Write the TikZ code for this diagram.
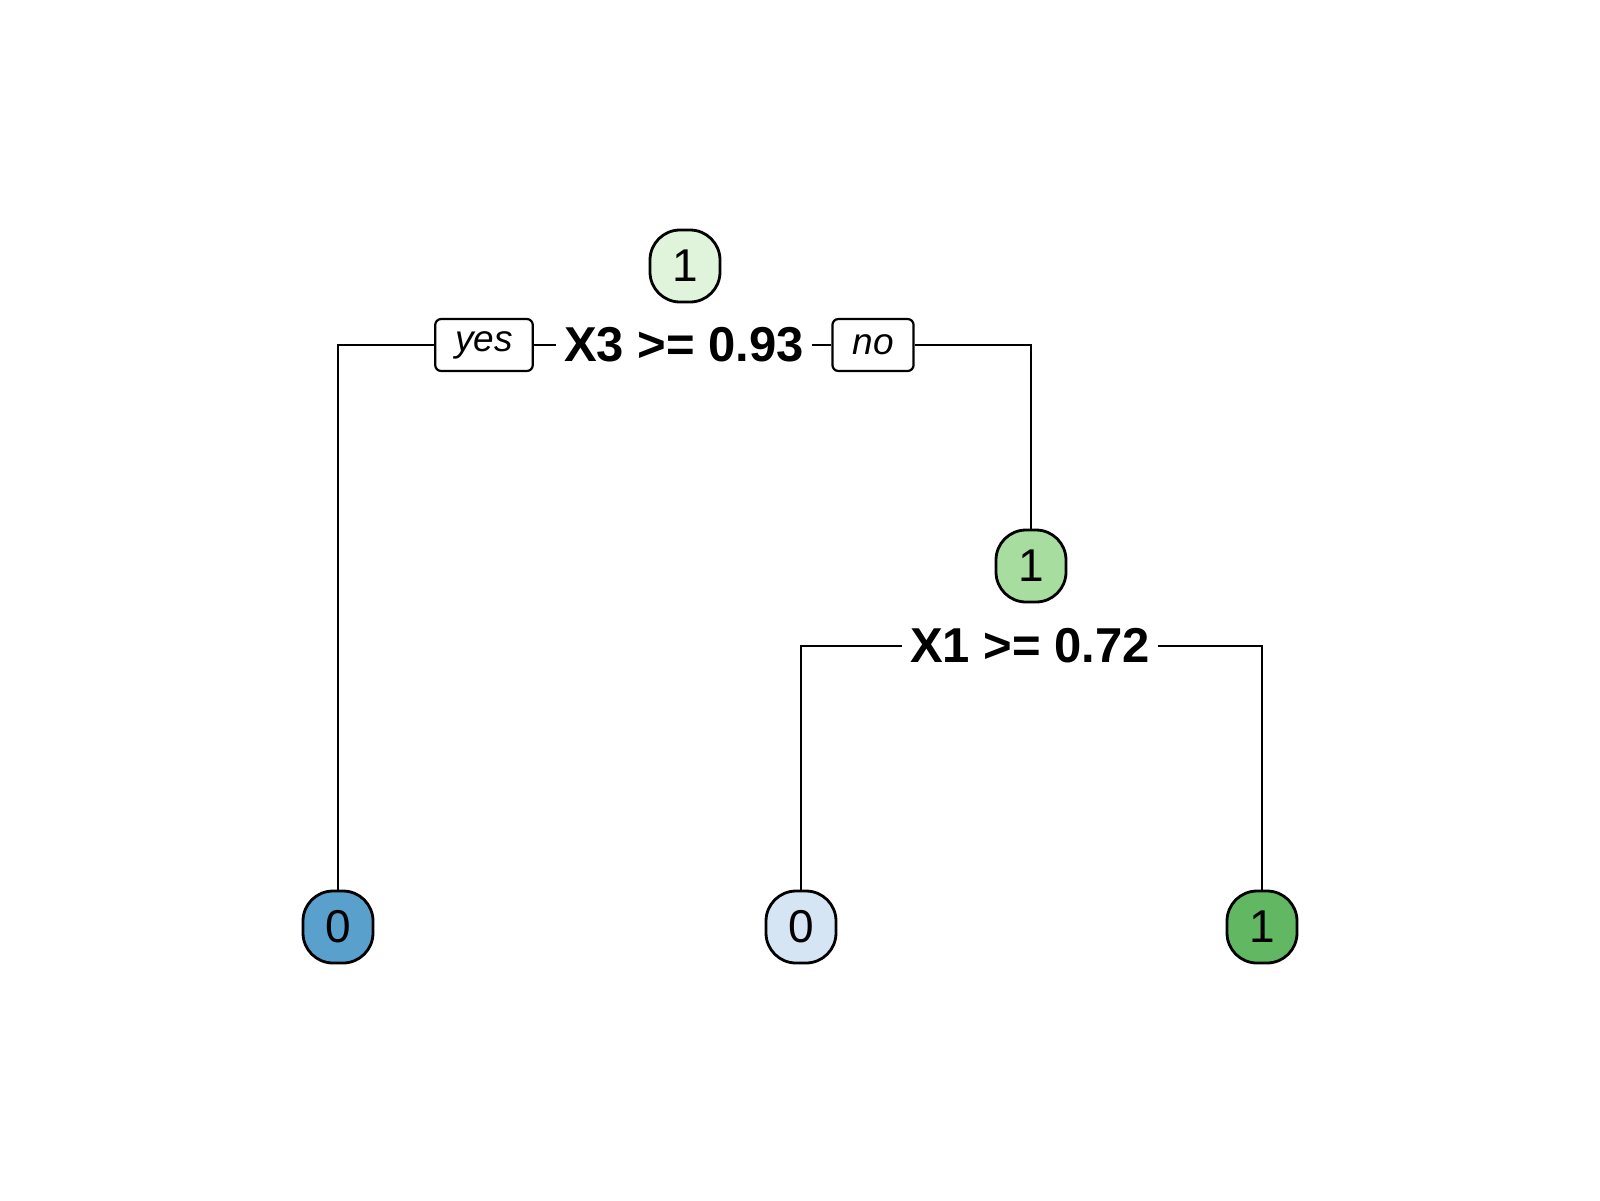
\documentclass[tikz,border=0pt]{standalone}
\usepackage{fontspec}
\setmainfont{Liberation Sans}
\definecolor{rootgreen}{HTML}{E0F3DB}
\definecolor{midgreen}{HTML}{A8DDA0}
\definecolor{leafblue}{HTML}{5AA0CD}
\definecolor{paleblue}{HTML}{D5E5F4}
\definecolor{leafgreen}{HTML}{62B862}
\begin{document}
\begin{tikzpicture}[x=0.5pt,y=-0.5pt,
        treenode/.style={draw,line width=1.4pt,rounded corners=15pt,minimum width=35pt,minimum height=36pt,inner sep=0pt,font=\fontsize{23}{23}\selectfont},
        splittext/.style={font=\bfseries\fontsize{24.5}{24.5}\selectfont,inner sep=3.5pt},
        sidelabel/.style={draw,line width=1.1pt,rounded corners=3pt,minimum height=26pt,inner xsep=10pt,font=\itshape\fontsize{18.5}{18.5}\selectfont},
        every path/.style={line width=1.1pt}]
                \useasboundingbox (0,0) rectangle (1600,1200);
                %root
                \node[treenode,fill=rootgreen] (root) at (685,266) {1};
                \node[splittext] (split1) at (684,345) {X3 >= 0.93};
                \node[sidelabel] (yes) at (484,345) {yes};
                \node[sidelabel] (no) at (873,345) {no};
                %inner node
                \node[treenode,fill=midgreen] (inner) at (1031,566) {1};
                \node[splittext] (split2) at (1030,646) {X1 >= 0.72};
                %leaves
                    \foreach \name/\x/\val/\col in {leafa/338/0/leafblue,leafb/801/0/paleblue,leafc/1262/1/leafgreen}
                        \node[treenode,fill=\col] (\name) at (\x,927) {\val};
                \draw (yes.west) -| (leafa.north);
                \draw (yes.east) -- (split1.west);
                \draw (split1.east) -- (no.west);
                \draw (no.east) -| (inner.north);
                \draw (split2.west) -| (leafb.north);
                \draw (split2.east) -| (leafc.north);
            \end{tikzpicture}
\end{document}
